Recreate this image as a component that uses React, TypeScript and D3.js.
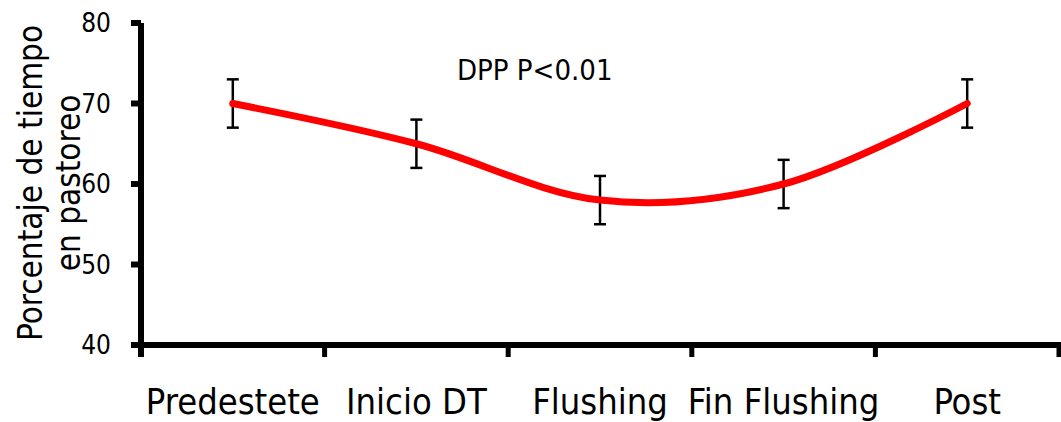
import React from "react";
import * as d3 from "d3";

const categories = ["Predestete", "Inicio DT", "Flushing", "Fin Flushing", "Post"];
const values = [70, 65, 58, 60, 70];
const errors = [3, 3, 3, 3, 3];
const yTicks = [40, 50, 60, 70, 80];
const annotation = "DPP P<0.01";
const yTitle = ["Porcentaje de tiempo", "en pastoreo"];

const W = 1061;
const H = 422;
const FONT = "'DejaVu Sans Condensed', 'DejaVu Sans', sans-serif";

export default function App() {
  const x = d3.scaleBand<string>().domain(categories).range([141, 1059]).padding(0);
  const y = d3.scaleLinear().domain([40, 80]).range([345, 23]);
  const cx = (c: string) => (x(c) as number) + x.bandwidth() / 2;

  const line = d3
    .line<number>()
    .x((_, i) => cx(categories[i]))
    .y((d) => y(d))
    .curve(d3.curveCardinal.tension(0));

  const boundaries = [...categories.map((c) => x(c) as number), 1059];
  const axisX = 141;
  const axisY = y(40);

  return (
    <svg width={W} height={H} style={{ position: "absolute", left: 0, top: 0 }}>
      <rect width={W} height={H} fill="#fff" />
      {/* y axis title */}
      <g fontFamily={FONT} fontSize={33} fill="#000">
        <text transform={`translate(42,183) rotate(-90)`} textAnchor="middle">
          {yTitle[0]}
        </text>
        <text transform={`translate(80,183) rotate(-90)`} textAnchor="middle">
          {yTitle[1]}
        </text>
      </g>
      {/* y tick labels */}
      <g fontFamily={FONT} fontSize={26} fill="#000">
        {yTicks.map((t) => (
          <text key={t} x={111} y={y(t)} dy="0.36em" textAnchor="end">
            {t}
          </text>
        ))}
      </g>
      {/* y axis */}
      <line x1={axisX} x2={axisX} y1={y(80)} y2={357} stroke="#000" strokeWidth={6} />
      {yTicks.map((t) => (
        <line key={t} x1={131} x2={axisX} y1={y(t)} y2={y(t)} stroke="#000" strokeWidth={6} />
      ))}
      {/* x axis */}
      <line x1={131} x2={1061} y1={axisY} y2={axisY} stroke="#000" strokeWidth={6} />
      {boundaries.map((b, i) => (
        <line key={i} x1={b} x2={b} y1={axisY} y2={357} stroke="#000" strokeWidth={i === 0 ? 6 : 5} />
      ))}
      {/* x labels */}
      <g fontFamily={FONT} fontSize={36} fill="#000">
        {categories.map((c) => (
          <text key={c} x={cx(c)} y={414} textAnchor="middle">
            {c}
          </text>
        ))}
      </g>
      {/* error bars */}
      <g stroke="#000" strokeWidth={2.5}>
        {categories.map((c, i) => {
          const px = cx(c);
          const top = y(values[i] + errors[i]);
          const bot = y(values[i] - errors[i]);
          return (
            <g key={c}>
              <line x1={px} x2={px} y1={top} y2={bot} />
              <line x1={px - 6} x2={px + 6} y1={top} y2={top} />
              <line x1={px - 6} x2={px + 6} y1={bot} y2={bot} />
            </g>
          );
        })}
      </g>
      {/* line */}
      <path d={line(values) || ""} fill="none" stroke="#ff0000" strokeWidth={7} strokeLinecap="round" />
      {/* annotation */}
      <text x={457} y={80} fontFamily={FONT} fontSize={29} fill="#000">
        {annotation}
      </text>
    </svg>
  );
}
